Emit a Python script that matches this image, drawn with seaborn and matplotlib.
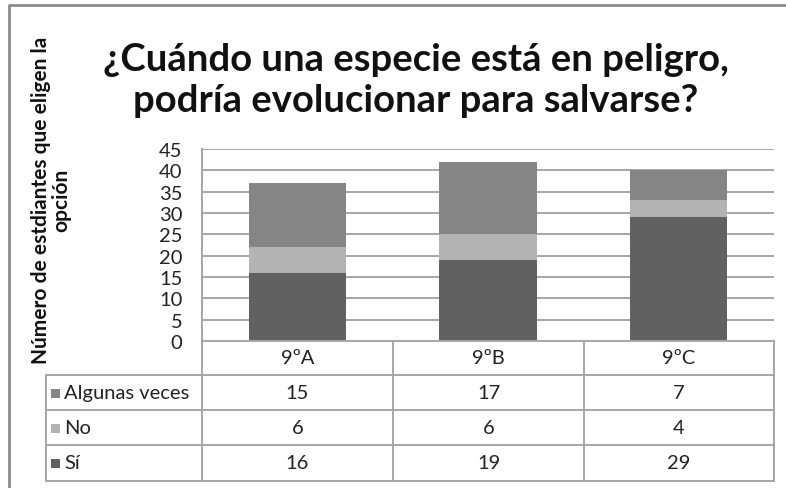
import matplotlib
matplotlib.use("Agg")
import matplotlib.pyplot as plt
from matplotlib.lines import Line2D
from matplotlib.patches import Rectangle
import seaborn as sns
import pandas as pd

# Survey answers per class group
groups = ["9ºA", "9ºB", "9ºC"]
series_names = ["Algunas veces", "No", "Sí"]
algunas_veces = [15, 17, 7]
no_vals = [6, 6, 4]
si_vals = [16, 19, 29]
y_ticks = [0, 5, 10, 15, 20, 25, 30, 35, 40, 45]

colors = {"Algunas veces": "#858585", "No": "#b3b3b3", "Sí": "#616161"}
FONT = "Lato"
W, H = 786, 489
TXT = 14.5

sns.set_theme(style="white")
plt.rcParams["font.family"] = [FONT, "DejaVu Sans"]

fig = plt.figure(figsize=(W / 100, H / 100), dpi=100)

def fx(px):
    return px / W

def fy(py):
    return 1 - py / H

# Plot area
x0, x1, ytop, ybot = 202, 774, 150, 342
ax = fig.add_axes([fx(x0), fy(ybot), fx(x1 - x0), (ybot - ytop) / H])

df = pd.DataFrame({
    "grupo": groups,
    "Sí": si_vals,
    "No": no_vals,
    "Algunas veces": algunas_veces,
})
df["tot_no"] = df["Sí"] + df["No"]
df["tot_all"] = df["tot_no"] + df["Algunas veces"]

# Stacked bars drawn as overlaid cumulative totals
sns.barplot(data=df, x="grupo", y="tot_all", color=colors["Algunas veces"],
            width=0.51, saturation=1, ax=ax, zorder=3)
sns.barplot(data=df, x="grupo", y="tot_no", color=colors["No"],
            width=0.51, saturation=1, ax=ax, zorder=3)
sns.barplot(data=df, x="grupo", y="Sí", color=colors["Sí"],
            width=0.51, saturation=1, ax=ax, zorder=3)
for p in ax.patches:
    p.set_edgecolor("none")

ax.set_ylim(0, 45)
ax.set_xlim(-0.5, 2.5)
ax.set_yticks(y_ticks)
ax.set_yticklabels([str(t) for t in y_ticks], fontsize=TXT, color="#222222")
ax.tick_params(axis="y", length=0, pad=14)
ax.set_xticks([])
ax.set_xlabel("")
ax.set_ylabel("")
for t in y_ticks[1:]:
    ax.axhline(t, color="#a6a6a6", lw=1.4, zorder=1)
for s in ["top", "right", "bottom"]:
    ax.spines[s].set_visible(False)
ax.spines["left"].set_color("#a6a6a6")
ax.spines["left"].set_linewidth(1.4)

# Data table below the plot
line_kw = dict(color="#a6a6a6", lw=1.4, transform=fig.transFigure)
tab_left = 46
col_edges = [202, 393, 584, 774]
row_edges = [342, 376, 411, 446, 482]

def hline(y, xa, xb):
    fig.add_artist(Line2D([fx(xa), fx(xb)], [fy(y), fy(y)], **line_kw))

def vline(x, ya, yb):
    fig.add_artist(Line2D([fx(x), fx(x)], [fy(ya), fy(yb)], **line_kw))

hline(row_edges[0], col_edges[0], col_edges[-1])
for y in row_edges[1:]:
    hline(y, tab_left, col_edges[-1])
for x in col_edges:
    vline(x, row_edges[0], row_edges[-1])
vline(tab_left, row_edges[1], row_edges[-1])

for i, g in enumerate(groups):
    cx = (col_edges[i] + col_edges[i + 1]) / 2
    cy = (row_edges[0] + row_edges[1]) / 2
    fig.text(fx(cx), fy(cy), g, ha="center", va="center", fontsize=TXT, color="#222222")

table_rows = [("Algunas veces", algunas_veces), ("No", no_vals), ("Sí", si_vals)]
for r, (name, vals) in enumerate(table_rows):
    cy = (row_edges[r + 1] + row_edges[r + 2]) / 2
    fig.add_artist(Rectangle((fx(51), fy(cy + 5)), fx(9), 9 / H,
                             transform=fig.transFigure, color=colors[name], lw=0))
    fig.text(fx(64), fy(cy), name, ha="left", va="center", fontsize=TXT, color="#222222")
    for i, v in enumerate(vals):
        cx = (col_edges[i] + col_edges[i + 1]) / 2
        fig.text(fx(cx), fy(cy), str(v), ha="center", va="center", fontsize=TXT, color="#222222")

# Title and axis label
fig.text(fx(416), fy(60), "¿Cuándo una especie está en peligro,", ha="center", va="center",
         fontsize=27.5, fontweight="bold", color="#111111")
fig.text(fx(416), fy(101), "podría evolucionar para salvarse?", ha="center", va="center",
         fontsize=27.5, fontweight="bold", color="#111111")
fig.text(fx(51), fy(200), "Número de estdiantes que eligen la\nopción", ha="center", va="center",
         rotation=90, fontsize=15, fontweight="bold", color="#111111", linespacing=1.0)

# Outer chart frame
fig.add_artist(Line2D([fx(8.5), fx(8.5), fx(786)], [0, fy(5.5), fy(5.5)],
                      color="#8a8a8a", lw=2, transform=fig.transFigure))

fig.savefig("out.png", dpi=100, facecolor="white")
